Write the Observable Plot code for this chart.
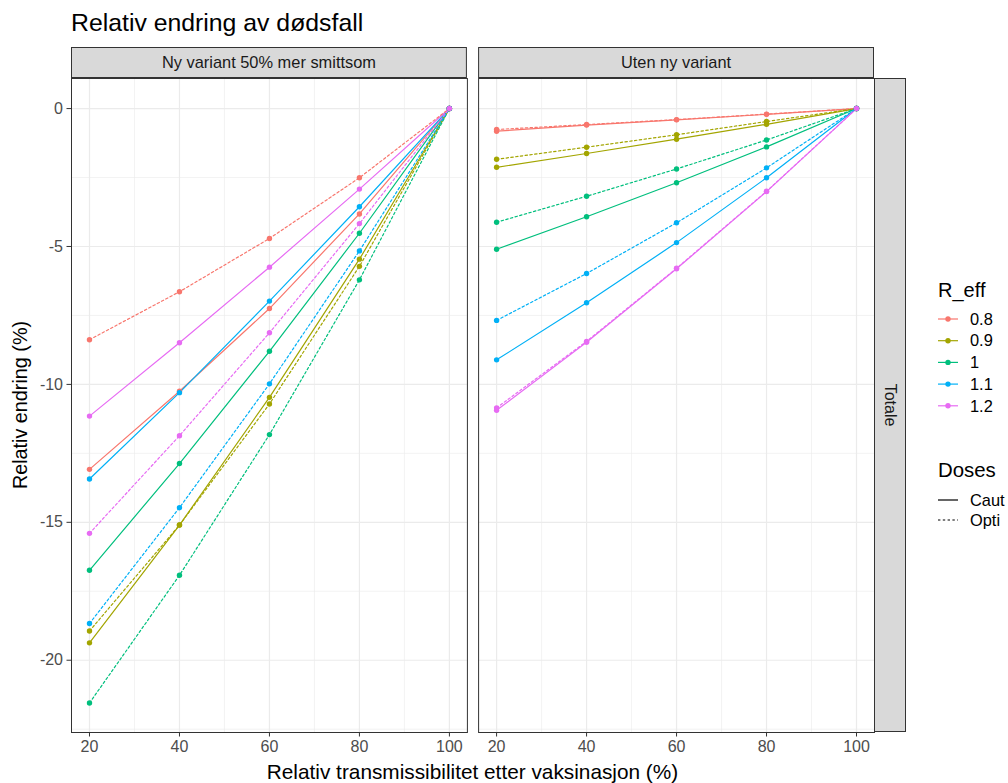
<!DOCTYPE html>
<html>
<head>
<meta charset="utf-8">
<script src="https://cdn.jsdelivr.net/npm/d3@7"></script>
<script src="https://cdn.jsdelivr.net/npm/@observablehq/plot@0.6"></script>
<style>
  html, body { margin: 0; padding: 0; background: #fff; overflow: hidden; }
  #chart { position: relative; width: 1008px; height: 783px; font-family: "Liberation Sans", Arial, Helvetica, sans-serif; }
  #chart > svg { position: absolute; left: 0; top: 0; }
</style>
</head>
<body>
<div id="chart"></div>
<script>
// Relative change in deaths (%) by transmissibility after vaccination,
// per scenario panel, effective reproduction number and dose strategy.
const transmissibility = [20, 40, 60, 80, 100];
const rEff = ["0.8", "0.9", "1", "1.1", "1.2"];
const panels = ["Ny variant 50% mer smittsom", "Uten ny variant"];
const doses = ["Caut", "Opti"];
const rowStrip = "Totale";

// one row per R_eff value, columns follow `transmissibility`
const newVariantCaut = [
  [-13.08, -10.25, -7.25, -3.82, 0],
  [-19.37, -15.10, -10.47, -5.46, 0],
  [-16.74, -12.87, -8.80, -4.52, 0],
  [-13.43, -10.30, -6.98, -3.56, 0],
  [-11.15, -8.49, -5.75, -2.92, 0]
];
const newVariantOpti = [
  [-8.38, -6.64, -4.71, -2.51, 0],
  [-18.94, -15.10, -10.71, -5.72, 0],
  [-21.55, -16.92, -11.82, -6.21, 0],
  [-18.67, -14.47, -9.98, -5.16, 0],
  [-15.40, -11.86, -8.13, -4.17, 0]
];
const noVariantCaut = [
  [-0.82, -0.60, -0.41, -0.21, 0],
  [-2.13, -1.63, -1.11, -0.57, 0],
  [-5.10, -3.92, -2.69, -1.39, 0],
  [-9.11, -7.04, -4.86, -2.51, 0],
  [-10.94, -8.47, -5.81, -3.01, 0]
];
const noVariantOpti = [
  [-0.76, -0.58, -0.40, -0.20, 0],
  [-1.84, -1.40, -0.95, -0.47, 0],
  [-4.12, -3.18, -2.19, -1.14, 0],
  [-7.68, -5.98, -4.14, -2.15, 0],
  [-10.85, -8.44, -5.79, -3.00, 0]
];

const xTicks = [20, 40, 60, 80, 100];
const xMinor = [30, 50, 70, 90];
const yTicks = [0, -5, -10, -15, -20];
const yMinor = [-2.5, -7.5, -12.5, -17.5, -22.5];
const hue = ["#F8766D", "#A3A500", "#00BF7D", "#00B0F6", "#E76BF3"];

const title = "Relativ endring av dødsfall";
const xTitle = "Relativ transmissibilitet etter vaksinasjon (%)";
const yTitle = "Relativ endring (%)";

// long table
function rows(panel, dose, table) {
  const out = [];
  table.forEach((vals, i) => vals.forEach((v, j) => out.push({panel, dose, r: rEff[i], t: transmissibility[j], v})));
  return out;
}
const caut = [...rows(panels[0], "Caut", newVariantCaut), ...rows(panels[1], "Caut", noVariantCaut)];
const opti = [...rows(panels[0], "Opti", newVariantOpti), ...rows(panels[1], "Opti", noVariantOpti)];
const all = [...caut, ...opti];

// layout
const W = 1008, H = 783;
const mL = 71, mR = 134, mT = 78, mB = 51;
const gap = 0.0275;
const step = (W - mL - mR) / (2 - gap);
const bw = step * (1 - gap);
const font = "Liberation Sans, Arial, Helvetica, sans-serif";

const chart = Plot.plot({
  width: W, height: H,
  marginTop: mT, marginBottom: mB, marginLeft: mL, marginRight: mR,
  style: {fontFamily: font, background: "transparent", overflow: "visible"},
  x: {domain: [16, 104]},
  y: {domain: [-22.62, 1.09]},
  fx: {domain: panels, paddingInner: gap, paddingOuter: 0, round: false, axis: null, label: null},
  color: {type: "ordinal", domain: rEff, range: hue},
  marks: [
    Plot.gridX(xMinor, {stroke: "#ebebeb", strokeOpacity: 1, strokeWidth: 0.6}),
    Plot.gridY(yMinor, {stroke: "#ebebeb", strokeOpacity: 1, strokeWidth: 0.6}),
    Plot.gridX(xTicks, {stroke: "#ebebeb", strokeOpacity: 1, strokeWidth: 1.2}),
    Plot.gridY(yTicks, {stroke: "#ebebeb", strokeOpacity: 1, strokeWidth: 1.2}),
    Plot.line(caut, {x: "t", y: "v", z: "r", stroke: "r", fx: "panel", strokeWidth: 1.2}),
    Plot.line(opti, {x: "t", y: "v", z: "r", stroke: "r", fx: "panel", strokeWidth: 1.2, strokeDasharray: "2.4,2.4"}),
    Plot.dot(all, {x: "t", y: "v", fill: "r", fx: "panel", r: 2.7}),
    Plot.frame({stroke: "#333333", strokeWidth: 1}),
    Plot.axisY({ticks: yTicks, tickFormat: d => String(d), tickSize: 4.5, tickPadding: 4, fontSize: 16, fill: "#4d4d4d", stroke: "#333333", label: null}),
    Plot.axisX({ticks: xTicks, tickFormat: d => String(d), tickSize: 4.5, tickPadding: 4, fontSize: 16, fill: "#4d4d4d", stroke: "#333333", label: null})
  ]
});

const root = document.getElementById("chart");
root.appendChild(chart);

// strips, titles and legend
const svg = d3.create("svg").attr("width", W).attr("height", H)
  .style("font-family", font).style("pointer-events", "none");

svg.append("text").attr("x", mL).attr("y", 31).attr("font-size", 24.8).attr("fill", "#000").text(title);

panels.forEach((p, i) => {
  const x0 = mL + i * step;
  svg.append("rect").attr("x", x0 + 0.5).attr("y", 47.5).attr("width", bw - 1).attr("height", mT - 48)
    .attr("fill", "#d9d9d9").attr("stroke", "#333333");
  svg.append("text").attr("x", x0 + bw / 2).attr("y", 68).attr("text-anchor", "middle")
    .attr("font-size", 16.4).attr("fill", "#1a1a1a").text(p);
});

const sx = W - mR;
svg.append("rect").attr("x", sx + 0.5).attr("y", mT + 0.5).attr("width", 31).attr("height", H - mB - mT - 1)
  .attr("fill", "#d9d9d9").attr("stroke", "#333333");
svg.append("text").attr("transform", `translate(${sx + 10.5},${(mT + H - mB) / 2}) rotate(90)`)
  .attr("text-anchor", "middle").attr("font-size", 16).attr("fill", "#1a1a1a").text(rowStrip);

svg.append("text").attr("x", mL + (W - mL - mR) / 2).attr("y", 779).attr("text-anchor", "middle")
  .attr("font-size", 20.8).attr("fill", "#000").text(xTitle);
svg.append("text").attr("transform", `translate(27,${(mT + H - mB) / 2}) rotate(-90)`)
  .attr("text-anchor", "middle").attr("font-size", 19.8).attr("fill", "#000").text(yTitle);

// legend
const lx = 938;
svg.append("text").attr("x", lx).attr("y", 297).attr("font-size", 20).attr("fill", "#000").text("R_eff");
rEff.forEach((r, i) => {
  const cy = 319 + i * 21.7;
  svg.append("line").attr("x1", lx).attr("x2", lx + 20).attr("y1", cy).attr("y2", cy)
    .attr("stroke", hue[i]).attr("stroke-width", 1.2);
  svg.append("circle").attr("cx", lx + 10).attr("cy", cy).attr("r", 2.7).attr("fill", hue[i]);
  svg.append("text").attr("x", lx + 32).attr("y", cy + 5.7).attr("font-size", 16.4).attr("fill", "#000").text(r);
});
svg.append("text").attr("x", lx).attr("y", 477).attr("font-size", 20.4).attr("fill", "#000").text("Doses");
doses.forEach((d, i) => {
  const cy = 500 + i * 20;
  svg.append("line").attr("x1", lx).attr("x2", lx + 20).attr("y1", cy).attr("y2", cy)
    .attr("stroke", "#000").attr("stroke-width", 1.2).attr("stroke-dasharray", i ? "2.4,2.4" : null);
  svg.append("text").attr("x", lx + 32).attr("y", cy + 5.7).attr("font-size", 16.4).attr("fill", "#000").text(d);
});

root.appendChild(svg.node());
</script>
</body>
</html>
